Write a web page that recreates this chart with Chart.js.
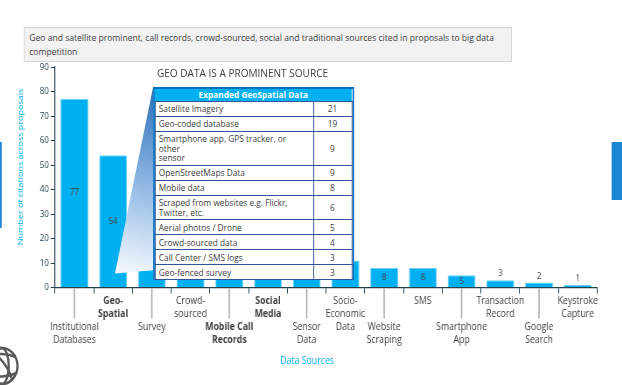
<!DOCTYPE html>
<html>
<head>
<meta charset="utf-8">
<script src="https://cdn.jsdelivr.net/npm/chart.js@4.4.0/dist/chart.umd.min.js"></script>
<style>
  html, body { margin: 0; padding: 0; background: #fff; overflow: hidden; }
  /* the reference is squeezed sideways, so build it 711 wide and squeeze it */
  #page { position: absolute; left: 0; top: 0; width: 711px; height: 385px;
          transform: scaleX(0.875); transform-origin: 0 0;
          font-family: "Open Sans", sans-serif; color: #404040; }
  #chart { position: absolute; left: 0; top: 0; }
  #headline { position: absolute; left: 27.4px; top: 27px; width: 558px; height: 35px;
              box-sizing: border-box; background: #f2f2f2; border: 1px solid #d4d4d4;
              padding: 2.5px 5px; font-size: 9.8px; line-height: 14.5px; white-space: nowrap; }
  #subhead { position: absolute; left: 179.4px; top: 65px; font-size: 11.5px; line-height: 16px; }
  #callout { position: absolute; left: 0; top: 0; }
  #geoBox { position: absolute; left: 174.5px; top: 87px; width: 230px;
            border: 2px solid #0070c0; border-bottom: none; box-sizing: border-box; background: #fff; }
  #geoBox table { border-collapse: collapse; width: 100%; font-size: 9.5px; line-height: 9.4px; }
  #geoBox th { background: #00b0f0; color: #fff; font-weight: bold; height: 12px; padding: 0; text-align: center; }
  #geoBox td { border: 1px solid #2f5597; padding: 2.3px 4px; vertical-align: middle; }
  #geoBox td.n { width: 35px; text-align: center; }
  #ytitle { position: absolute; left: -77px; top: 161px; width: 200px; text-align: center;
            transform: rotate(-90deg); color: #00b0f0; font-size: 9px; line-height: 12px; }
  #xtitle { position: absolute; left: 301px; top: 353px; width: 100px; text-align: center;
            color: #00b0f0; font-size: 10px; line-height: 14px; }
  .tab { position: absolute; background: #1b87d3; }
</style>
</head>
<body>
<div id="page">
  <canvas id="chart" width="711" height="385"></canvas>
  <div id="headline">Geo and satellite prominent, call records, crowd-sourced, social and traditional sources cited in proposals to big data<br>competition</div>
  <div id="subhead">GEO DATA IS A PROMINENT SOURCE</div>
  <svg id="callout" width="711" height="385">
    <defs>
      <linearGradient id="fade" x1="175" y1="87" x2="134" y2="273" gradientUnits="userSpaceOnUse">
        <stop offset="0" stop-color="#2a6db6"/>
        <stop offset="0.55" stop-color="#97bde6"/>
        <stop offset="1" stop-color="#f6f9fd"/>
      </linearGradient>
    </defs>
    <polygon points="175,87 131.4,273.5 280,262.5 404,87" fill="url(#fade)"/>
  </svg>
  <div id="geoBox"><table id="geoTable"></table></div>
  <div id="ytitle">Number of citations across proposals</div>
  <div id="xtitle">Data Sources</div>
  <div class="tab" style="left:0;top:142px;width:2.3px;height:86px"></div>
  <div class="tab" style="left:699.4px;top:142px;width:12px;height:58px"></div>
  <svg style="position:absolute;left:0;top:340px" width="40" height="45">
    <g fill="none" stroke="#595959" stroke-width="2.6">
      <circle cx="2" cy="26" r="18"/>
      <ellipse cx="2" cy="26" rx="8" ry="18"/>
      <path d="M-14 17 Q2 11 18 17"/>
      <path d="M-15 33 Q2 40 19 33"/>
      <path d="M-10 11 Q8 22 14 40"/>
    </g>
  </svg>
</div>

<script>
// Data sources cited in proposals (x axis), multi-line labels
const sourceLabels = [
  ['Institutional', 'Databases'],
  ['Geo-', 'Spatial'],
  ['Survey'],
  ['Crowd-', 'sourced'],
  ['Mobile Call', 'Records'],
  ['Social', 'Media'],
  ['Sensor', 'Data'],
  ['Socio-', 'Economic', 'Data'],
  ['Website', 'Scraping'],
  ['SMS'],
  ['Smartphone', 'App'],
  ['Transaction', 'Record'],
  ['Google', 'Search'],
  ['Keystroke', 'Capture']
];
// Number of citations (bars 3-6 sit behind the inset table, estimated)
const citations = [77, 54, 46, 38, 34, 27, 20, 11, 8, 8, 5, 3, 2, 1];
const boldSources = [1, 4, 5];

// Inset table: expanded geospatial data
const geoSubtypes = [
  'Satellite Imagery',
  'Geo-coded database',
  'Smartphone app, GPS tracker, or<br>other<br>sensor',
  'OpenStreetMaps Data',
  'Mobile data',
  'Scraped from websites e.g. Flickr,<br>Twitter, etc.',
  'Aerial photos / Drone',
  'Crowd-sourced data',
  'Call Center / SMS logs',
  'Geo-fenced survey'
];
const geoCounts = [21, 19, 9, 9, 8, 6, 5, 4, 3, 3];

const yMin = 0, yMax = 90, yStep = 10;

// build the table
const table = document.getElementById('geoTable');
let rows = '<tr><th colspan="2">Expanded GeoSpatial Data</th></tr>';
geoSubtypes.forEach((name, i) => {
  rows += '<tr><td>' + name + '</td><td class="n">' + geoCounts[i] + '</td></tr>';
});
table.innerHTML = rows;

const axisColor = '#23404f';

// lower row of labels gets pushed down by two empty lines
const tickLabels = sourceLabels.map((l, i) => i % 2 === 0 ? ['', ''].concat(l) : l);

const barExtras = {
  id: 'barExtras',
  afterDatasetsDraw(chart) {
    const ctx = chart.ctx;
    const meta = chart.getDatasetMeta(0);
    ctx.save();
    ctx.font = '9px "Open Sans"';
    ctx.fillStyle = '#404040';
    ctx.textAlign = 'center';
    meta.data.forEach((bar, i) => {
      const v = citations[i];
      if (v >= 5) {
        ctx.textBaseline = 'middle';
        ctx.fillText(v, bar.x, (bar.y + bar.base) / 2);
      } else {
        ctx.textBaseline = 'bottom';
        ctx.fillText(v, bar.x, bar.y - 2);
      }
    });
    // leader lines down to the lower label row
    const xs = chart.scales.x;
    ctx.strokeStyle = '#a6a6a6';
    ctx.lineWidth = 1.5;
    sourceLabels.forEach((l, i) => {
      if (i % 2 === 0) {
        const x = xs.getPixelForValue(i);
        ctx.beginPath();
        ctx.moveTo(x, xs.top + 1);
        ctx.lineTo(x, xs.top + 31);
        ctx.stroke();
      }
    });
    ctx.restore();
  }
};

new Chart(document.getElementById('chart').getContext('2d'), {
  type: 'bar',
  data: {
    labels: tickLabels,
    datasets: [{
      data: citations,
      backgroundColor: '#00b0f0',
      borderColor: '#6fcff4',
      borderWidth: 1,
      barPercentage: 0.72,
      categoryPercentage: 1
    }]
  },
  options: {
    responsive: false,
    animation: false,
    layout: { padding: { left: 0, top: 67, right: 28.6, bottom: 37.5 } },
    plugins: { legend: { display: false }, tooltip: { enabled: false } },
    scales: {
      x: {
        afterFit: axis => { axis.height = 60; },
        grid: { drawOnChartArea: false, tickLength: 6, color: axisColor, offset: true },
        border: { color: axisColor, width: 1.2 },
        ticks: {
          autoSkip: false,
          maxRotation: 0,
          padding: 1,
          color: '#404040',
          font: ctx => ({
            family: '"Open Sans"',
            size: 10,
            lineHeight: '13px',
            weight: boldSources.includes(ctx.index) ? 'bold' : 'normal'
          })
        }
      },
      y: {
        min: yMin,
        max: yMax,
        afterFit: axis => { axis.width = 62.9; },
        grid: { drawOnChartArea: false, tickLength: 5, color: axisColor },
        border: { color: axisColor, width: 1.2 },
        ticks: {
          stepSize: yStep,
          padding: 2,
          color: axisColor,
          font: { family: '"Open Sans"', size: 9 }
        }
      }
    }
  },
  plugins: [barExtras]
});
</script>
</body>
</html>
